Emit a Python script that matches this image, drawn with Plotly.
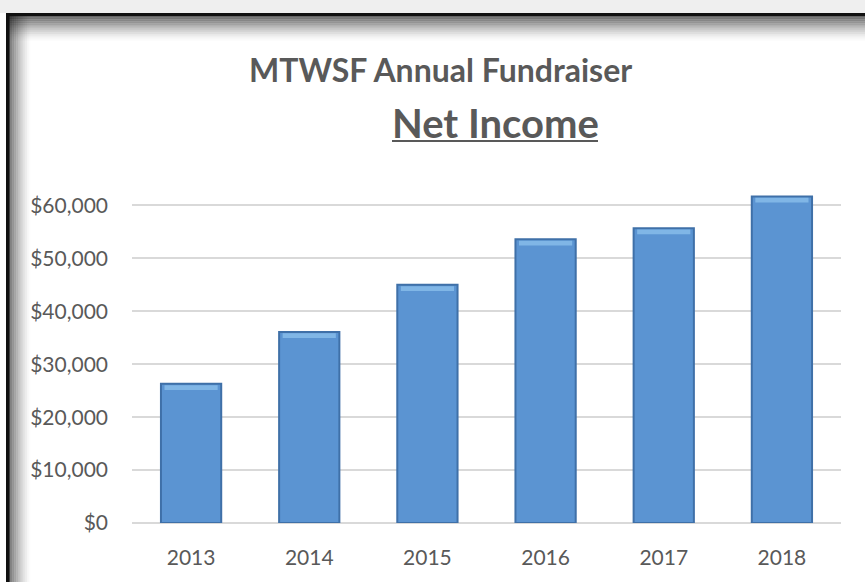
import plotly.graph_objects as go

years = ["2013", "2014", "2015", "2016", "2017", "2018"]
net_income = [26300, 36100, 45000, 53600, 55700, 61700]
y_ticks = [0, 10000, 20000, 30000, 40000, 50000, 60000]
y_tick_labels = ["$0", "$10,000", "$20,000", "$30,000", "$40,000", "$50,000", "$60,000"]

W, H = 865, 582
L, R, T, B = 132, 24, 179, 59
PW, PH = W - L - R, H - T - B


def px(x):
    return (x - L) / PW


def py(y):
    return (H - B - y) / PH


fig = go.Figure()
fig.add_trace(go.Bar(
    x=years, y=net_income, width=0.51,
    marker=dict(color="#5b94d2", line=dict(color="#3f70a8", width=2)),
    hoverinfo="x+y",
))
# top bevel highlight
hl_top, hl_bot = 250, 1150
fig.add_trace(go.Bar(
    x=years, y=[hl_bot - hl_top] * len(years), base=[v - hl_bot for v in net_income],
    width=0.45,
    marker=dict(color="#80b6e6", line=dict(width=0)),
    hoverinfo="skip",
))

shapes = []
# top light strip
shapes.append(dict(type="rect", xref="paper", yref="paper", x0=px(0), x1=px(W), y0=py(0), y1=py(13),
                   fillcolor="#efefef", line=dict(width=0), layer="below"))
# top shadow gradient
n = 14
for i in range(n):
    y0 = 16 + i * 1.8
    a = 0.6 * (1 - i / n) ** 1.5
    shapes.append(dict(type="rect", xref="paper", yref="paper", x0=px(6), x1=px(W), y0=py(y0), y1=py(y0 + 1.8),
                       fillcolor=f"rgba(0,0,0,{a:.3f})", line=dict(width=0), layer="below"))
# left shadow gradient
n = 12
for i in range(n):
    x0 = 9 + i * 1.8
    a = 0.55 * (1 - i / n) ** 1.5
    shapes.append(dict(type="rect", xref="paper", yref="paper", x0=px(x0), x1=px(x0 + 1.8), y0=py(H), y1=py(16),
                       fillcolor=f"rgba(0,0,0,{a:.3f})", line=dict(width=0), layer="below"))
# black frame lines
shapes.append(dict(type="rect", xref="paper", yref="paper", x0=px(6), x1=px(W), y0=py(16), y1=py(13),
                   fillcolor="#111111", line=dict(width=0), layer="below"))
shapes.append(dict(type="rect", xref="paper", yref="paper", x0=px(6), x1=px(9.5), y0=py(H), y1=py(13),
                   fillcolor="#111111", line=dict(width=0), layer="below"))
# underline of subtitle
shapes.append(dict(type="line", xref="paper", yref="paper", x0=px(392), x1=px(598), y0=py(141), y1=py(141),
                   line=dict(color="#595959", width=2)))

fig.update_layout(
    width=W, height=H,
    margin=dict(l=L, r=R, t=T, b=B),
    paper_bgcolor="white", plot_bgcolor="white",
    showlegend=False,
    barmode="overlay",
    shapes=shapes,
    font=dict(family="Lato", color="#595959"),
    annotations=[
        dict(text="<b>MTWSF Annual Fundraiser</b>", xref="paper", yref="paper", x=px(440.5), y=py(69),
             xanchor="center", yanchor="middle", showarrow=False, font=dict(size=32, color="#595959")),
        dict(text="<b>Net Income</b>", xref="paper", yref="paper", x=px(495), y=py(123),
             xanchor="center", yanchor="middle", showarrow=False, font=dict(size=40, color="#595959")),
    ],
    xaxis=dict(showgrid=False, showline=False, ticks="", tickfont=dict(size=21, color="#595959"),
               ticklabelstandoff=20),
    yaxis=dict(range=[0, 65000], tickvals=y_ticks, ticktext=y_tick_labels,
               showgrid=True, gridcolor="#d9d9d9", gridwidth=1.5,
               zeroline=True, zerolinecolor="#d9d9d9", zerolinewidth=1.5,
               showline=False, ticks="", tickfont=dict(size=21, color="#595959"),
               ticklabelstandoff=23),
)

fig.write_html("out.html")
